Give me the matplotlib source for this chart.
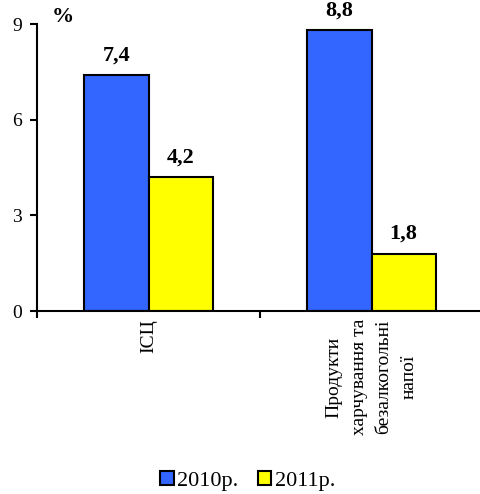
import matplotlib
matplotlib.use("Agg")
import matplotlib.pyplot as plt
import numpy as np

categories = ["ІСЦ", "Продукти\nхарчування та\nбезалкогольні\nнапої"]
series_names = ["2010р.", "2011р."]
values_2010 = [7.4, 8.8]
values_2011 = [4.2, 1.8]
value_labels_2010 = ["7,4", "8,8"]
value_labels_2011 = ["4,2", "1,8"]
yticks = [0, 3, 6, 9]

plt.rcParams['font.family'] = ['Liberation Serif', 'DejaVu Serif']

fig = plt.figure(figsize=(4.81, 4.94), dpi=100)
ax = fig.add_axes([37/481, 1 - 311/494, 446/481, 287/494])

x = np.arange(len(categories))
w = 0.287
b1 = ax.bar(x - w/2, values_2010, w, color="#3366FF", edgecolor="black", linewidth=1.5, label=series_names[0])
b2 = ax.bar(x + w/2, values_2011, w, color="#FFFF00", edgecolor="black", linewidth=1.5, label=series_names[1])

for bars, labs in ((b1, value_labels_2010), (b2, value_labels_2011)):
    for r, t in zip(bars, labs):
        ax.annotate(t, (r.get_x() + r.get_width()/2, r.get_height()), xytext=(0, 7),
                    textcoords="offset points", ha="center", va="bottom",
                    fontsize=16, fontweight="bold")

ax.set_xlim(-0.5, 1.5)
ax.set_ylim(0, 9)
ax.set_yticks(yticks)
ax.set_yticklabels([str(v) for v in yticks], fontsize=14)
ax.set_xticks([-0.5, 0.5, 1.5])
ax.set_xticklabels([])
ax.tick_params(axis='both', direction='out', length=5, width=1.5)
ax.tick_params(axis='y', pad=6)
for s in ("top", "right"):
    ax.spines[s].set_visible(False)
for s in ("left", "bottom"):
    ax.spines[s].set_linewidth(1.5)

for xi, lab in zip(x, categories):
    ax.text(xi, -0.25, lab, rotation=90, ha="center", va="top", multialignment="center",
            fontsize=14, linespacing=1.6)

ax.text(63/481, 1 - 17/494, "%", transform=fig.transFigure, fontsize=16, fontweight="bold",
        ha="center", va="center")

leg = fig.legend(handles=[b1, b2], labels=series_names, loc="center", bbox_to_anchor=(0.515, 1 - 481/494),
                 ncol=2, frameon=False, fontsize=16, handlelength=0.6, handleheight=0.6,
                 handletextpad=0.15, columnspacing=0.9)

fig.savefig("out.png", dpi=100)
